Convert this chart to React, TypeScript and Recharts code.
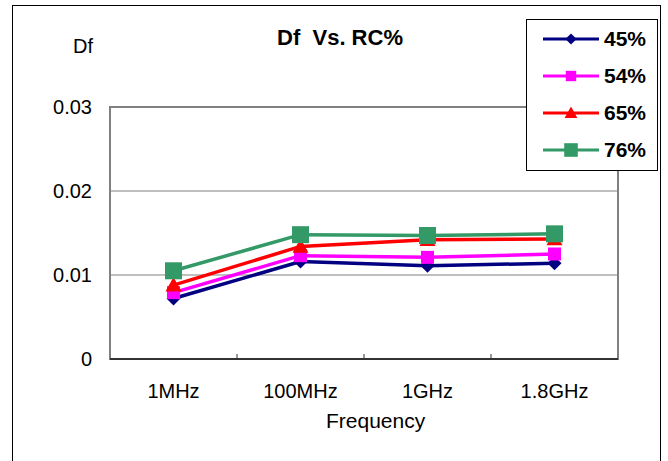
import * as React from "react";
import { LineChart, Line, XAxis, YAxis, CartesianGrid, ReferenceArea } from "recharts";

const categories = ["1MHz", "100MHz", "1GHz", "1.8GHz"];
const rc45 = [0.0072, 0.0116, 0.0111, 0.0114];
const rc54 = [0.0079, 0.0123, 0.0121, 0.0125];
const rc65 = [0.0088, 0.0134, 0.0142, 0.0143];
const rc76 = [0.0105, 0.0148, 0.0147, 0.0149];
const yTicks = [0, 0.01, 0.02, 0.03];

const data = categories.map((freq, i) => ({
  freq,
  rc45: rc45[i],
  rc54: rc54[i],
  rc65: rc65[i],
  rc76: rc76[i],
}));

const FONT = "'Liberation Sans', Arial, sans-serif";

type Shape = "diamond" | "square" | "triangle" | "bigSquare";

function Marker({ cx, cy, shape, color, s = 1 }: { cx: number; cy: number; shape: Shape; color: string; s?: number }) {
  if (shape === "diamond") {
    const r = 7 * s;
    return <polygon points={`${cx},${cy - r} ${cx + r},${cy} ${cx},${cy + r} ${cx - r},${cy}`} fill={color} />;
  }
  if (shape === "triangle") {
    const r = 8 * s;
    return <polygon points={`${cx},${cy - r} ${cx + r},${cy + r * 0.8} ${cx - r},${cy + r * 0.8}`} fill={color} />;
  }
  const h = (shape === "bigSquare" ? 8.5 : 6.5) * s;
  return <rect x={cx - h} y={cy - h} width={h * 2} height={h * 2} fill={color} />;
}

const SERIES: { key: string; name: string; color: string; shape: Shape }[] = [
  { key: "rc45", name: "45%", color: "#000080", shape: "diamond" },
  { key: "rc54", name: "54%", color: "#FF00FF", shape: "square" },
  { key: "rc65", name: "65%", color: "#FF0000", shape: "triangle" },
  { key: "rc76", name: "76%", color: "#339966", shape: "bigSquare" },
];

function FreqTick(props: any) {
  const { x, y, payload, index, width, visibleTicksCount } = props;
  const half = width / (2 * visibleTicksCount);
  return (
    <g>
      <text x={x} y={y} dy={39} textAnchor="middle" fontSize={20} fontFamily={FONT} fill="#000">
        {payload.value}
      </text>
      {index < visibleTicksCount - 1 && (
        <line x1={x + half} x2={x + half} y1={y} y2={y - 5} stroke="#333" strokeWidth={1} />
      )}
    </g>
  );
}

function LegendBox() {
  return (
    <div
      style={{
        position: "absolute",
        left: 526,
        top: 19,
        border: "1.5px solid #000",
        background: "#fff",
        width: 132,
        height: 152,
        boxSizing: "border-box",
        paddingTop: 0,
      }}
    >
      {SERIES.map((s) => (
        <div key={s.key} style={{ display: "flex", alignItems: "center", height: 37 }}>
          <svg width={77} height={24} style={{ display: "block" }}>
            <line x1={16} x2={72} y1={12} y2={12} stroke={s.color} strokeWidth={3} />
            <Marker cx={44} cy={12} shape={s.shape} color={s.color} s={0.8} />
          </svg>
          <span style={{ fontFamily: FONT, fontWeight: "bold", fontSize: 21, color: "#000" }}>{s.name}</span>
        </div>
      ))}
    </div>
  );
}

export default function App() {
  return (
    <div style={{ position: "fixed", left: 0, top: 0, width: 668, height: 461, background: "#fff", overflow: "hidden" }}>
      <div
        style={{
          position: "absolute",
          left: 12,
          top: 5,
          width: 649,
          height: 480,
          border: "1.5px solid #000",
          boxSizing: "border-box",
        }}
      />
      <div style={{ position: "absolute", left: 0, top: 0 }}>
        <LineChart width={668} height={461} data={data} margin={{ top: 107, right: 50, bottom: 0, left: 40 }}>
          <CartesianGrid vertical={false} stroke="#808080" strokeWidth={1.2} />
          <ReferenceArea y1={0} y2={0.03} fill="none" stroke="#808080" strokeWidth={2} />
          <XAxis
            dataKey="freq"
            scale="band"
            tick={<FreqTick />}
            tickLine={false}
            tickSize={0}
            tickMargin={0}
            interval={0}
            axisLine={{ stroke: "#333", strokeWidth: 2 }}
            height={102}
          />
          <YAxis
            domain={[0, 0.03]}
            ticks={yTicks}
            tickFormatter={(v: number) => (v === 0 ? "0" : v.toFixed(2))}
            tick={{ fontSize: 20, fontFamily: FONT, fill: "#000" }}
            tickLine={false}
            axisLine={false}
            tickMargin={12}
            width={70}
          />
          {SERIES.map((s) => (
            <Line
              key={s.key}
              dataKey={s.key}
              name={s.name}
              stroke={s.color}
              strokeWidth={3.5}
              isAnimationActive={false}
              dot={(p: any) => <Marker key={`${s.key}-${p.index}`} cx={p.cx} cy={p.cy} shape={s.shape} color={s.color} />}
              activeDot={false}
            />
          ))}
        </LineChart>
      </div>
      <div
        style={{
          position: "absolute",
          left: 0,
          width: 680,
          top: 25,
          textAlign: "center",
          fontFamily: FONT,
          fontWeight: "bold",
          fontSize: 22,
          whiteSpace: "pre",
        }}
      >
        {"Df  Vs. RC%"}
      </div>
      <div style={{ position: "absolute", left: 73, top: 35, fontFamily: FONT, fontSize: 20 }}>Df</div>
      <div style={{ position: "absolute", left: 326, top: 409, fontFamily: FONT, fontSize: 21 }}>Frequency</div>
      <LegendBox />
    </div>
  );
}
